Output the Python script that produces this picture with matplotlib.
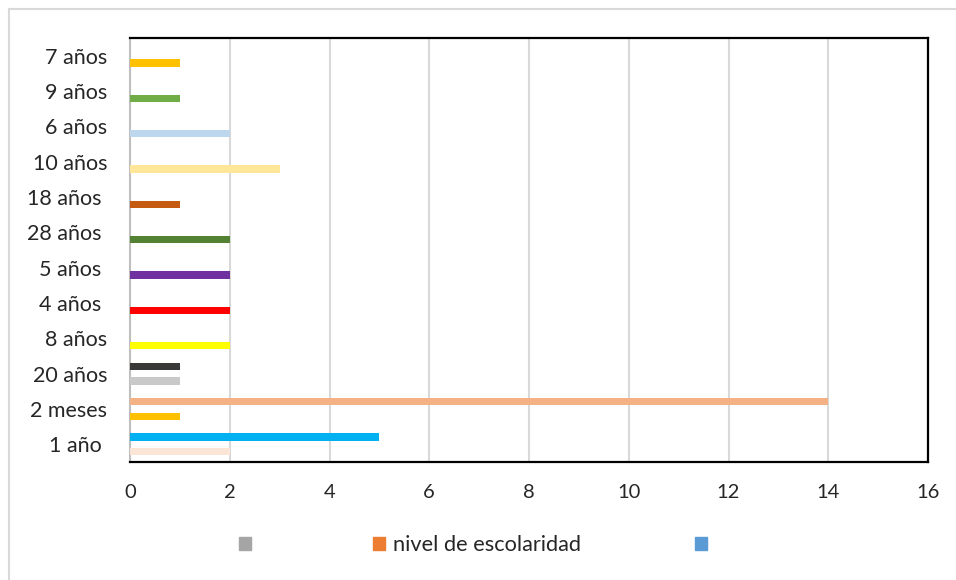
import matplotlib.pyplot as plt
from matplotlib.lines import Line2D
from matplotlib.patches import Patch

plt.rcParams['font.family'] = ['Lato', 'DejaVu Sans']

# categorias de baixo para cima
categorias = ['1 año ', '2 meses', '20 años', '8 años', '4 años ', '5 años ',
              '28 años ', '18 años ', '10 años', '6 años', '9 años', '7 años']

# serie inferior (um valor por categoria) e suas cores
valores_inf = [2, 1, 1, 2, 2, 2, 2, 1, 3, 2, 1, 1]
cores_inf = ['#FBE5D6', '#FFC000', '#C9C9C9', '#FFFF00', '#FF0000', '#7030A0',
             '#548235', '#C55A11', '#FFE699', '#BDD7EE', '#70AD47', '#FFC000']

# serie superior (so as tres primeiras categorias tem valor)
valores_sup = [5, 14, 1, 0, 0, 0, 0, 0, 0, 0, 0, 0]
cores_sup = ['#00B0F0', '#F4B183', '#3B3838'] + ['#FFFFFF'] * 9

legenda_rotulos = ['', 'nivel de escolaridad', '']
legenda_cores = ['#A5A5A5', '#ED7D31', '#5B9BD5']

fig = plt.figure(figsize=(9.56, 5.8), dpi=100)
ax = fig.add_axes([130 / 956, 1 - 462 / 580, 798 / 956, 424 / 580])

pos = list(range(len(categorias)))
ax.barh([p - 0.21 for p in pos], valores_inf, height=0.21, color=cores_inf, zorder=3)
ax.barh([p + 0.21 for p in pos], valores_sup, height=0.21, color=cores_sup, zorder=3)

ax.set_xlim(0, 16)
ax.set_ylim(-0.5, len(categorias) - 0.5)
ax.set_xticks(range(0, 17, 2))
ax.set_yticks(pos)
ax.set_yticklabels(categorias, fontsize=15.5, color='#262626')
ax.tick_params(axis='x', labelsize=14.5, colors='#262626', length=0, pad=16)
ax.tick_params(axis='y', length=0, pad=16.5)

ax.grid(axis='x', color='#D9D9D9', linewidth=1.5, zorder=0)
for lado in ['top', 'right', 'bottom']:
    ax.spines[lado].set_color('black')
    ax.spines[lado].set_linewidth(1.6)
ax.spines['left'].set_color('#BFBFBF')
ax.spines['left'].set_linewidth(1.5)

# borda clara do grafico (so topo e esquerda)
fig.add_artist(Line2D([9 / 956, 9 / 956], [0, 1 - 9 / 580], color='#D9D9D9', lw=1.5, transform=fig.transFigure))
fig.add_artist(Line2D([9 / 956, 1], [1 - 9 / 580, 1 - 9 / 580], color='#D9D9D9', lw=1.5, transform=fig.transFigure))

handles = [Patch(color=c) for c in legenda_cores]
fig.legend(handles, legenda_rotulos, loc='center', bbox_to_anchor=(477 / 956, 1 - 545 / 580),
           ncol=3, frameon=False, fontsize=15.7, handlelength=0.55, handleheight=0.55,
           columnspacing=5.2, handletextpad=0.4, labelcolor='#262626')

fig.savefig('out.png', dpi=100)
